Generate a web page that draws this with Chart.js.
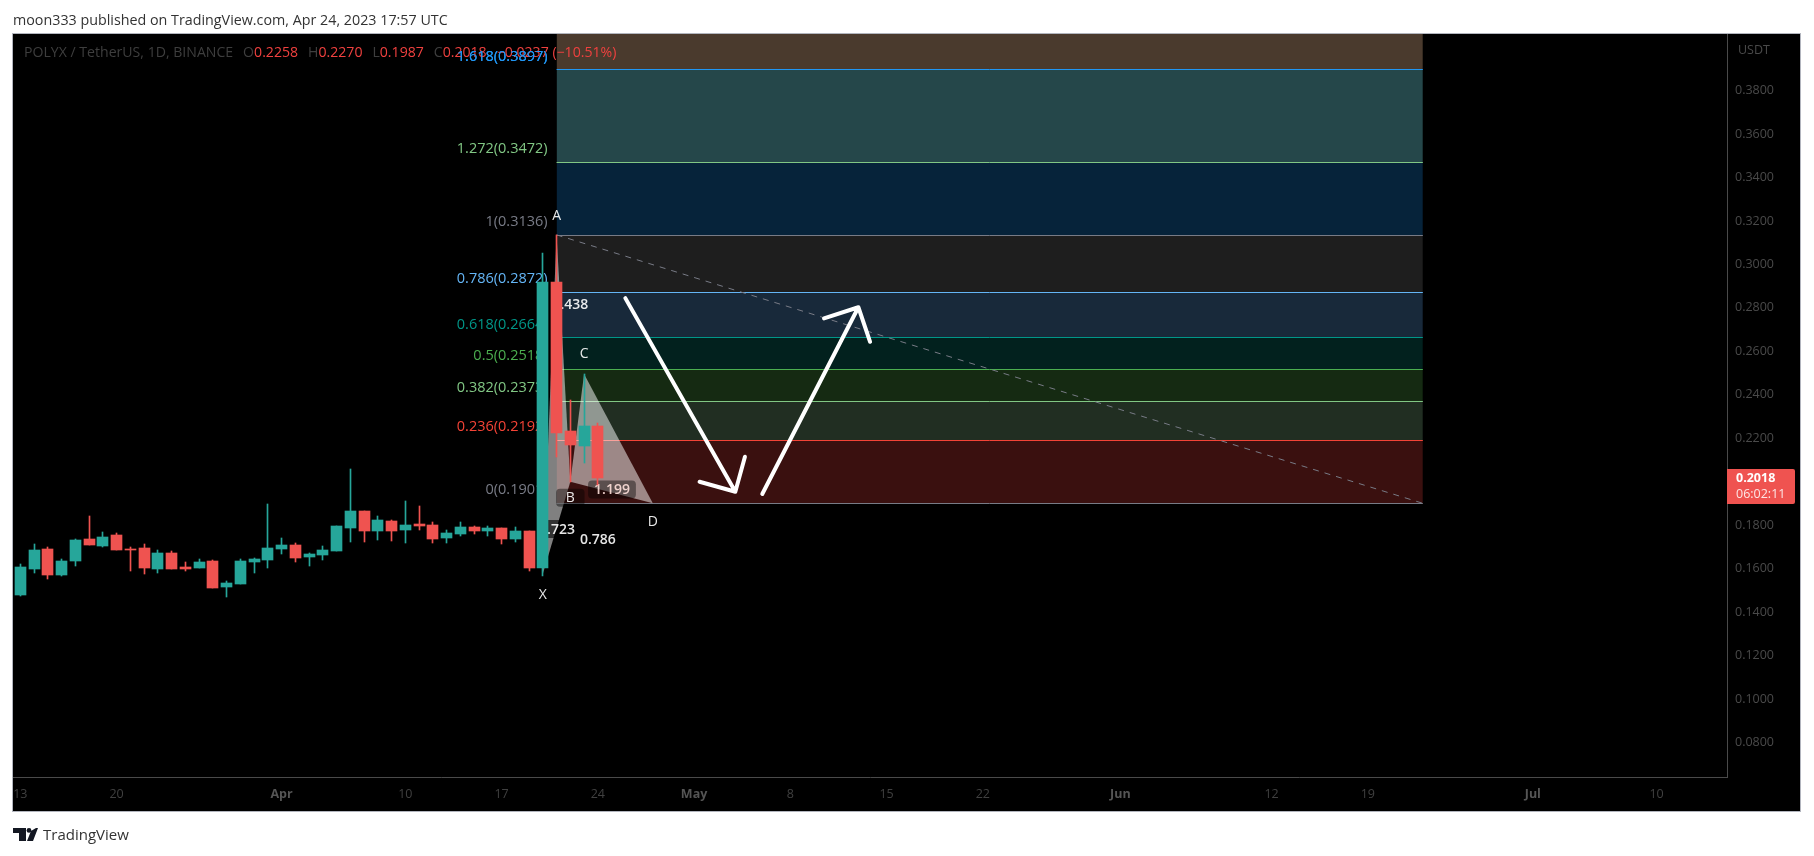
<!DOCTYPE html>
<html>
<head>
<meta charset="utf-8">
<title>POLYX / TetherUS</title>
<script src="https://cdn.jsdelivr.net/npm/chart.js@4/dist/chart.umd.js"></script>
<style>
	html, body { margin: 0; padding: 0; background: #fff; overflow: hidden; }
	#wrap { position: relative; width: 1814px; height: 856px; }
	#out { position: absolute; left: 0; top: 0; }
	#published { position: absolute; left: 13px; top: 10px; font: 14.3px "Open Sans", sans-serif; color: #333; white-space: nowrap; }
	#brand { position: absolute; left: 13px; top: 823px; height: 22px; display: flex; align-items: center; font: 15px "Open Sans", sans-serif; color: #333; }
	#brand svg { margin-right: 5px; }
</style>
</head>
<body>
<div id="wrap">
	<canvas id="out" width="1814" height="856"></canvas>
	<div id="published">moon333 published on TradingView.com, Apr 24, 2023 17:57 UTC</div>
	<div id="brand">
		<svg width="25" height="13" viewBox="0 0 25 13"><path d="M0 0h13v13H6V5H0z M23 0h2l-5 13h-6l4-10z" fill="#131722"/><circle cx="16" cy="2.4" r="2.4" fill="#131722"/></svg>
		TradingView
	</div>
</div>
<script>
// daily candles, Mar 13 .. Apr 24 2023
const opens = [0.1479, 0.1599, 0.1691, 0.1571, 0.1636, 0.1737, 0.1705, 0.1755, 0.1691, 0.1695, 0.1599,
	0.1672, 0.1608, 0.1603, 0.1636, 0.1516, 0.1530, 0.1631, 0.1640, 0.1691, 0.1709, 0.1654,
	0.1663, 0.1682, 0.1787, 0.1866, 0.1774, 0.1820, 0.1778, 0.1806, 0.1801, 0.1741, 0.1760,
	0.1792, 0.1774, 0.1787, 0.1737, 0.1774, 0.1603, 0.2920, 0.2234, 0.2165, 0.2258];
const closes = [0.1608, 0.1686, 0.1571, 0.1636, 0.1732, 0.1709, 0.1746, 0.1686, 0.1686, 0.1603, 0.1672,
	0.1599, 0.1599, 0.1631, 0.1511, 0.1534, 0.1636, 0.1645, 0.1695, 0.1709, 0.1649, 0.1668,
	0.1686, 0.1797, 0.1866, 0.1774, 0.1824, 0.1774, 0.1801, 0.1797, 0.1737, 0.1764, 0.1792,
	0.1774, 0.1787, 0.1737, 0.1774, 0.1603, 0.2920, 0.2226, 0.2169, 0.2257, 0.2018];
const highs = [0.1620, 0.1714, 0.1700, 0.1645, 0.1737, 0.1843, 0.1769, 0.1764, 0.1700, 0.1714, 0.1686,
	0.1682, 0.1631, 0.1645, 0.1640, 0.1544, 0.1645, 0.1649, 0.1898, 0.1741, 0.1718, 0.1672,
	0.1705, 0.1797, 0.2059, 0.1866, 0.1843, 0.1824, 0.1912, 0.1889, 0.1815, 0.1778, 0.1815,
	0.1797, 0.1797, 0.1787, 0.1792, 0.1774, 0.3054, 0.3136, 0.2376, 0.2496, 0.2270];
const lows = [0.1476, 0.1580, 0.1553, 0.1567, 0.1613, 0.1709, 0.1700, 0.1686, 0.1590, 0.1576, 0.1580,
	0.1599, 0.1590, 0.1603, 0.1511, 0.1470, 0.1530, 0.1580, 0.1603, 0.1668, 0.1631, 0.1613,
	0.1640, 0.1682, 0.1723, 0.1723, 0.1732, 0.1728, 0.1718, 0.1778, 0.1718, 0.1718, 0.1750,
	0.1760, 0.1750, 0.1714, 0.1723, 0.1590, 0.1566, 0.2115, 0.2000, 0.2085, 0.1987];

// fib retracement
const fibNames = ["1.618", "1.272", "1", "0.786", "0.618", "0.5", "0.382", "0.236", "0"];
const fibValues = [0.3897, 0.3472, 0.3136, 0.2872, 0.2664, 0.2518, 0.2373, 0.2192, 0.1901];
const fibStartDay = 39;
const fibEndDay = 102;

// XABCD pattern
const patternNames = ["X", "A", "B", "C", "D"];
const patternDays = [38, 39, 40, 41, 46];
const patternPrices = [0.1576, 0.3136, 0.2000, 0.2496, 0.1901];
const ratioNames = ["1.438", "0.723", "0.786", "1.199"];
const ratioDays = [40, 39.03, 42, 43.03];
const ratioPrices = [0.2818, 0.1783, 0.1737, 0.1965];

// hand drawn arrows: start, tip, head, tip, head
const arrowDownDays = [44.0, 52.0, 49.4, 52.0, 52.7];
const arrowDownPrices = [0.2845, 0.1954, 0.2000, 0.1954, 0.2115];
const arrowUpDays = [53.96, 60.95, 58.45, 60.95, 61.8];
const arrowUpPrices = [0.1944, 0.2803, 0.2752, 0.2803, 0.2644];

// axes
const priceTicks = [0.08, 0.10, 0.12, 0.14, 0.16, 0.18, 0.20, 0.22, 0.24, 0.26, 0.28, 0.30, 0.32, 0.34, 0.36, 0.38];
const dayTicks = [0, 7, 19, 28, 35, 42, 49, 56, 63, 70, 80, 91, 98, 110, 119];
const dayLabels = ["13", "20", "Apr", "10", "17", "24", "May", "8", "15", "22", "Jun", "12", "19", "Jul", "10"];
const monthLabels = ["Apr", "May", "Jun", "Jul"];
const lastPrice = 0.2018;
const countdown = "06:02:11";

const legendName = "POLYX / TetherUS, 1D, BINANCE";
const legendOhlc = [["O", "0.2258"], ["H", "0.2270"], ["L", "0.1987"], ["C", "0.2018"]];
const legendChange = "\u22120.0237 (\u221210.51%)";

const UP = "#26a69a";
const DOWN = "#ef5350";
const fibColors = ["#2196f3", "#81c784", "#787b86", "#64b5f6", "#009688", "#4caf50", "#81c784", "#f44336", "#787b86"];
const zoneColors = ["#4a3a2d", "#25474a", "#06233a", "#1e1e1e", "#18293a", "#02211e", "#152a12", "#212e22", "#3a100f"];
const FONT = '"Open Sans", sans-serif';
const PRICE_MIN = 0.0642;
const PRICE_MAX = 0.4060;

const days = opens.map((v, i) => i);
const candleColors = opens.map((v, i) => closes[i] >= v ? UP : DOWN);

function zoneDatasets() {
	const result = [];
	for (let i = 0; i < fibValues.length; i++) {
		// top zone runs on to the edge of the pane
		const upper = i === 0 ? PRICE_MAX : fibValues[i - 1];
		result.push({
			type: "line",
			label: "zone" + i,
			data: [{x: fibStartDay, y: fibValues[i]}, {x: fibEndDay, y: fibValues[i]}],
			fill: {target: {value: upper}},
			backgroundColor: zoneColors[i],
			borderColor: fibColors[i],
			borderWidth: 1,
			pointRadius: 0,
			order: 50 + i
		});
	}
	return result;
}

function polyline(label, xs, ys, extra) {
	return Object.assign({
		type: "line",
		label: label,
		data: xs.map((x, i) => ({x: x, y: ys[i]})),
		pointRadius: 0,
		borderWidth: 0,
		fill: false
	}, extra);
}

function triangle(name, a, b, c) {
	const fillColor = "rgba(255,255,255,0.5)";
	const pick = (arr, ids) => ids.map(k => arr[k]);
	return [
		polyline(name + "Top", pick(patternDays, [a, b, c]), pick(patternPrices, [a, b, c]), {fill: "+1", backgroundColor: fillColor, order: 20}),
		polyline(name + "Base", pick(patternDays, [a, c]), pick(patternPrices, [a, c]), {order: 21})
	];
}

function box(ctx, text, x, y, alpha) {
	ctx.font = "600 14px " + FONT;
	const w = ctx.measureText(text).width + 12;
	ctx.fillStyle = "rgba(0,0,0," + alpha + ")";
	ctx.beginPath();
	ctx.roundRect(x - w / 2, y - 9, w, 18, 4);
	ctx.fill();
}

// text that sits below the candles: fib labels and the pattern labels
function drawUnderCandles(chart) {
	const ctx = chart.ctx;
	const xs = chart.scales.x;
	const ys = chart.scales.y;
	ctx.save();
	ctx.textBaseline = "middle";
	ctx.textAlign = "right";
	ctx.font = "14.5px " + FONT;
	fibNames.forEach((name, i) => {
		ctx.fillStyle = fibColors[i];
		ctx.fillText(name + "(" + fibValues[i].toFixed(4) + ")", xs.getPixelForValue(fibStartDay) - 9, ys.getPixelForValue(fibValues[i]) - 13);
	});
	ctx.textAlign = "center";
	ratioNames.forEach((name, i) => {
		const x = xs.getPixelForValue(ratioDays[i]);
		const y = ys.getPixelForValue(ratioPrices[i]);
		if (name === "0.723") box(ctx, name, x, y, 0.6);
		if (name === "1.199") box(ctx, name, x, y, 0.42);
		ctx.fillStyle = name === "1.199" ? "rgba(255,225,220,0.9)" : "rgba(255,255,255,0.9)";
		ctx.font = "600 14px " + FONT;
		ctx.fillText(name, x, y + 1);
	});
	const letterShift = [21, -19, 16, -20, 19];
	patternNames.forEach((name, i) => {
		const x = xs.getPixelForValue(patternDays[i]);
		const y = ys.getPixelForValue(patternPrices[i]) + letterShift[i];
		if (name === "B") box(ctx, name + "  ", x, y, 0.42);
		ctx.fillStyle = "rgba(255,255,255,0.9)";
		ctx.font = "14px " + FONT;
		ctx.fillText(name, x, y);
	});
	ctx.restore();
}

const tvPlugin = {
	id: "tv",
	// keep candles and fib lines on whole pixels like the original
	afterDatasetsUpdate(chart) {
		chart.data.datasets.forEach((ds, i) => {
			const meta = chart.getDatasetMeta(i);
			if (ds.label === "bodies" || ds.label === "wicks") {
				meta.data.forEach(bar => {
					bar.x = Math.floor(bar.x) + 0.5;
					const top = Math.round(Math.min(bar.y, bar.base));
					const bottom = Math.round(Math.max(bar.y, bar.base));
					bar.y = top;
					bar.base = Math.max(bottom, top + 1);
				});
			} else if (ds.label.startsWith("zone")) {
				meta.data.forEach(pt => { pt.y = Math.round(pt.y) + 0.5; });
			}
		});
	},
	beforeDraw(chart) {
		const ctx = chart.ctx;
		ctx.save();
		ctx.fillStyle = "#000";
		ctx.fillRect(13, 34, 1787, 777);
		ctx.strokeStyle = "#b2b5be";
		ctx.lineWidth = 1;
		ctx.strokeRect(12.5, 33.5, 1788, 778);
		ctx.restore();
	},
	beforeDatasetDraw(chart, args) {
		if (chart.data.datasets[args.index].label === "wicks") drawUnderCandles(chart);
	},
	afterDraw(chart) {
		const ctx = chart.ctx;
		const y = chart.scales.y.getPixelForValue(lastPrice);
		ctx.save();
		ctx.textBaseline = "middle";
		// legend
		ctx.font = "14.1px " + FONT;
		let x = 24;
		const put = (text, color, gap) => {
			ctx.fillStyle = color;
			ctx.fillText(text, x, 53);
			x += ctx.measureText(text).width + gap;
		};
		put(legendName, "#3e3e3e", 10);
		legendOhlc.forEach(pair => {
			put(pair[0], "#3e3e3e", 0);
			put(pair[1], "#f0413f", 10);
		});
		put(legendChange, "#f0413f", 0);
		ctx.textAlign = "right";
		ctx.fillStyle = fibColors[0];
		ctx.font = "14.5px " + FONT;
		ctx.fillText(fibNames[0] + "(" + fibValues[0].toFixed(4) + ")", chart.scales.x.getPixelForValue(fibStartDay) - 9, chart.scales.y.getPixelForValue(fibValues[0]) - 13);
		ctx.textAlign = "left";
		// currency
		ctx.fillStyle = "#4a4a4a";
		ctx.font = "12.5px " + FONT;
		ctx.fillText("USDT", 1738, 50);
		// last price tag
		ctx.fillStyle = DOWN;
		ctx.beginPath();
		ctx.roundRect(1727, y - 9, 68, 35, [0, 2, 2, 0]);
		ctx.fill();
		ctx.fillStyle = "#fff";
		ctx.font = "bold 12.5px " + FONT;
		ctx.fillText(lastPrice.toFixed(4), 1736, y + 1);
		ctx.fillStyle = "rgba(255,255,255,0.85)";
		ctx.font = "12.5px " + FONT;
		ctx.fillText(countdown, 1736, y + 17);
		ctx.restore();
	}
};

const canvasCtx = document.getElementById("out").getContext("2d");
window.chart = new Chart(canvasCtx, {
	type: "bar",
	data: {
		datasets: [
			polyline("arrowDown", arrowDownDays, arrowDownPrices, {borderColor: "#fff", borderWidth: 4, borderCapStyle: "round", borderJoinStyle: "round", order: 0}),
			polyline("arrowUp", arrowUpDays, arrowUpPrices, {borderColor: "#fff", borderWidth: 4, borderCapStyle: "round", borderJoinStyle: "round", order: 0}),
			{
				label: "bodies",
				data: days.map(i => ({x: i, y: [opens[i], closes[i]]})),
				backgroundColor: candleColors,
				barThickness: 11,
				grouped: false,
				order: 1
			},
			{
				label: "wicks",
				data: days.map(i => ({x: i, y: [lows[i], highs[i]]})),
				backgroundColor: candleColors,
				barThickness: 1,
				grouped: false,
				order: 2
			},
			...triangle("xab", 0, 1, 2),
			...triangle("bcd", 2, 3, 4),
			polyline("trend", [fibStartDay, fibEndDay], [fibValues[2], fibValues[8]], {borderColor: "#787b86", borderWidth: 1, borderDash: [6, 6], order: 30}),
			...zoneDatasets()
		]
	},
	options: {
		responsive: false,
		animation: false,
		events: [],
		layout: {padding: {left: 13, top: 34, right: 14, bottom: 45}},
		plugins: {legend: {display: false}, tooltip: {enabled: false}},
		scales: {
			x: {
				type: "linear",
				offset: false,
				min: -0.531,
				max: 124.12,
				grid: {display: false},
				border: {color: "#4a4a4a"},
				afterBuildTicks: ax => { ax.ticks = dayTicks.map(v => ({value: v})); },
				afterFit: ax => { ax.height = 34; },
				ticks: {
					autoSkip: false,
					maxRotation: 0,
					padding: 2,
					color: ctx => monthLabels.includes(dayLabels[ctx.index]) ? "#555" : "#404040",
					font: ctx => ({family: FONT, size: 12.5, weight: monthLabels.includes(dayLabels[ctx.index]) ? "bold" : "normal"}),
					callback: (v, i) => dayLabels[i]
				}
			},
			y: {
				position: "right",
				min: PRICE_MIN,
				max: PRICE_MAX,
				grid: {display: false},
				border: {color: "#4a4a4a"},
				afterBuildTicks: ax => { ax.ticks = priceTicks.map(v => ({value: v})); },
				afterFit: ax => { ax.width = 73; },
				ticks: {
					padding: 0,
					color: "#4a4a4a",
					font: {family: FONT, size: 12.5},
					callback: v => v.toFixed(4)
				}
			}
		}
	},
	plugins: [tvPlugin]
});
</script>
</body>
</html>
